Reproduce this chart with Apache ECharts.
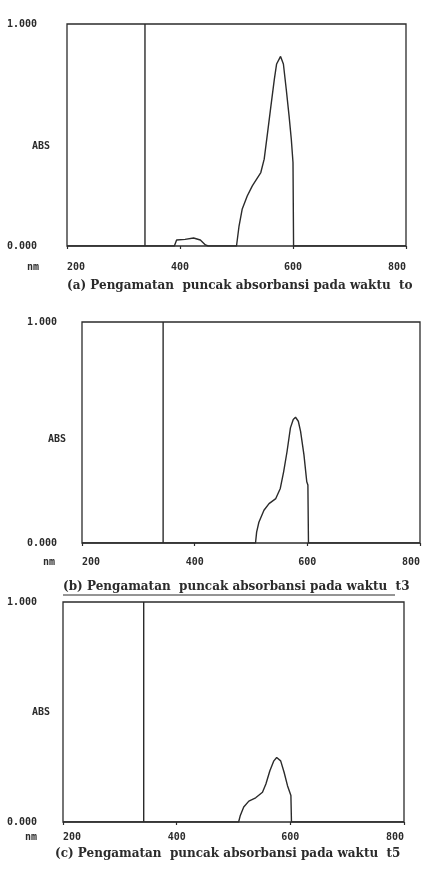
<!DOCTYPE html>
<html>
<head>
<meta charset="utf-8">
<style>
  html, body { margin: 0; padding: 0; background: #fff; }
  #chart { width: 430px; height: 872px; }
</style>
<script src="https://cdn.jsdelivr.net/npm/echarts@6/dist/echarts.min.js"></script>
</head>
<body>
<div id="chart"></div>
<script>
// 三个吸收光谱（扫描图）：波长 nm / 吸光度 ABS
var xTicks = [200, 400, 600, 800];
var yTicks = [0, 1];

// (a) waktu to
var nmA  = [200, 390, 394, 409, 424, 436, 445, 450, 500, 504.5, 510, 519, 528, 543, 549, 555, 561, 567, 571, 578, 583, 588, 593, 597, 600, 601, 800];
var absA = [0, 0, 0.027, 0.03, 0.036, 0.027, 0.005, 0, 0, 0.09, 0.165, 0.225, 0.271, 0.331, 0.391, 0.511, 0.632, 0.752, 0.82, 0.854, 0.82, 0.707, 0.587, 0.481, 0.376, 0, 0];
var spikeA = 338;

// (b) waktu t3
var nmB  = [200, 508, 510, 514, 523, 532, 544, 552, 558, 564, 570, 575, 579, 584, 588, 594, 599, 601, 602, 800];
var absB = [0, 0, 0.049, 0.094, 0.148, 0.178, 0.201, 0.247, 0.323, 0.414, 0.521, 0.559, 0.569, 0.551, 0.505, 0.399, 0.277, 0.262, 0, 0];
var spikeB = 344;

// (c) waktu t5
var nmC  = [200, 509, 512, 518, 527, 539, 551, 557, 564, 571, 576, 583, 589, 595, 601, 602, 800];
var absC = [0, 0, 0.03, 0.068, 0.095, 0.11, 0.135, 0.173, 0.233, 0.278, 0.293, 0.278, 0.226, 0.165, 0.12, 0, 0];
var spikeC = 342;

var captions = [
  "(a) Pengamatan  puncak absorbansi pada waktu  to",
  "(b) Pengamatan  puncak absorbansi pada waktu  t3",
  "(c) Pengamatan  puncak absorbansi pada waktu  t5"
];

var INK = "#2b2b2b";
var LBL = { fontFamily: "DejaVu Sans Mono", fontWeight: "bold", fontSize: 10, color: INK };
var SMALL = "bold 10px 'DejaVu Sans Mono'";
var CAP = "bold 12px 'DejaVu Serif'";

function zip(xs, ys) { return xs.map(function (x, i) { return [x, ys[i]]; }); }

var panels = [
  { grid: { left: 67, top: 24, width: 339, height: 222 }, xm: 16, ym: 30, nm: nmA, ab: absA, sp: spikeA },
  { grid: { left: 82, top: 322, width: 338, height: 221 }, xm: 14, ym: 25, nm: nmB, ab: absB, sp: spikeB },
  { grid: { left: 63, top: 602, width: 341, height: 220 }, xm: 10, ym: 26, nm: nmC, ab: absC, sp: spikeC }
];

var option = {
  animation: false,
  backgroundColor: "#fff",
  grid: panels.map(function (p) {
    return Object.assign({ show: true, outerBoundsMode: "none", containLabel: false,
      borderColor: INK, borderWidth: 1.3, backgroundColor: "transparent" }, p.grid);
  }),
  xAxis: panels.map(function (p, i) {
    return {
      type: "value", gridIndex: i, min: xTicks[0], max: xTicks[xTicks.length - 1], interval: 200,
      axisLine: { show: false }, splitLine: { show: false },
      axisTick: { show: true, length: 3, lineStyle: { color: INK, width: 1.2 } },
      axisLabel: Object.assign({ margin: p.xm, alignMinLabel: "left", alignMaxLabel: "right" }, LBL)
    };
  }),
  yAxis: panels.map(function (p, i) {
    return {
      type: "value", gridIndex: i, min: yTicks[0], max: yTicks[1], interval: 1,
      axisLine: { show: false }, axisTick: { show: false }, splitLine: { show: false },
      axisLabel: Object.assign({ margin: p.ym, formatter: function (v) { return v.toFixed(3); } }, LBL)
    };
  }),
  series: [].concat.apply([], panels.map(function (p, i) {
    return [
      { type: "line", xAxisIndex: i, yAxisIndex: i, data: zip(p.nm, p.ab), symbol: "none",
        lineStyle: { color: INK, width: 1.4 } },
      { type: "line", xAxisIndex: i, yAxisIndex: i, data: [[p.sp, 0], [p.sp, 1]], symbol: "none",
        lineStyle: { color: INK, width: 1.4 } }
    ];
  })),
  graphic: [
    { type: "text", left: 32, top: 141, style: { text: "ABS", font: SMALL, fill: INK } },
    { type: "text", left: 48, top: 434, style: { text: "ABS", font: SMALL, fill: INK } },
    { type: "text", left: 32, top: 707, style: { text: "ABS", font: SMALL, fill: INK } },
    { type: "text", left: 27, top: 262, style: { text: "nm", font: SMALL, fill: INK } },
    { type: "text", left: 43, top: 557, style: { text: "nm", font: SMALL, fill: INK } },
    { type: "text", left: 25, top: 832, style: { text: "nm", font: SMALL, fill: INK } },
    { type: "text", left: 67, top: 280, style: { text: captions[0], font: CAP, fill: INK } },
    { type: "text", left: 63, top: 581, style: { text: captions[1], font: CAP, fill: INK } },
    { type: "line", shape: { x1: 63, y1: 595, x2: 395, y2: 595 }, style: { stroke: INK, lineWidth: 1 } },
    { type: "text", left: 55, top: 848, style: { text: captions[2], font: CAP, fill: INK } }
  ]
};

var chart = echarts.init(document.getElementById("chart"), null, { renderer: "canvas" });
chart.setOption(option);
</script>
</body>
</html>
